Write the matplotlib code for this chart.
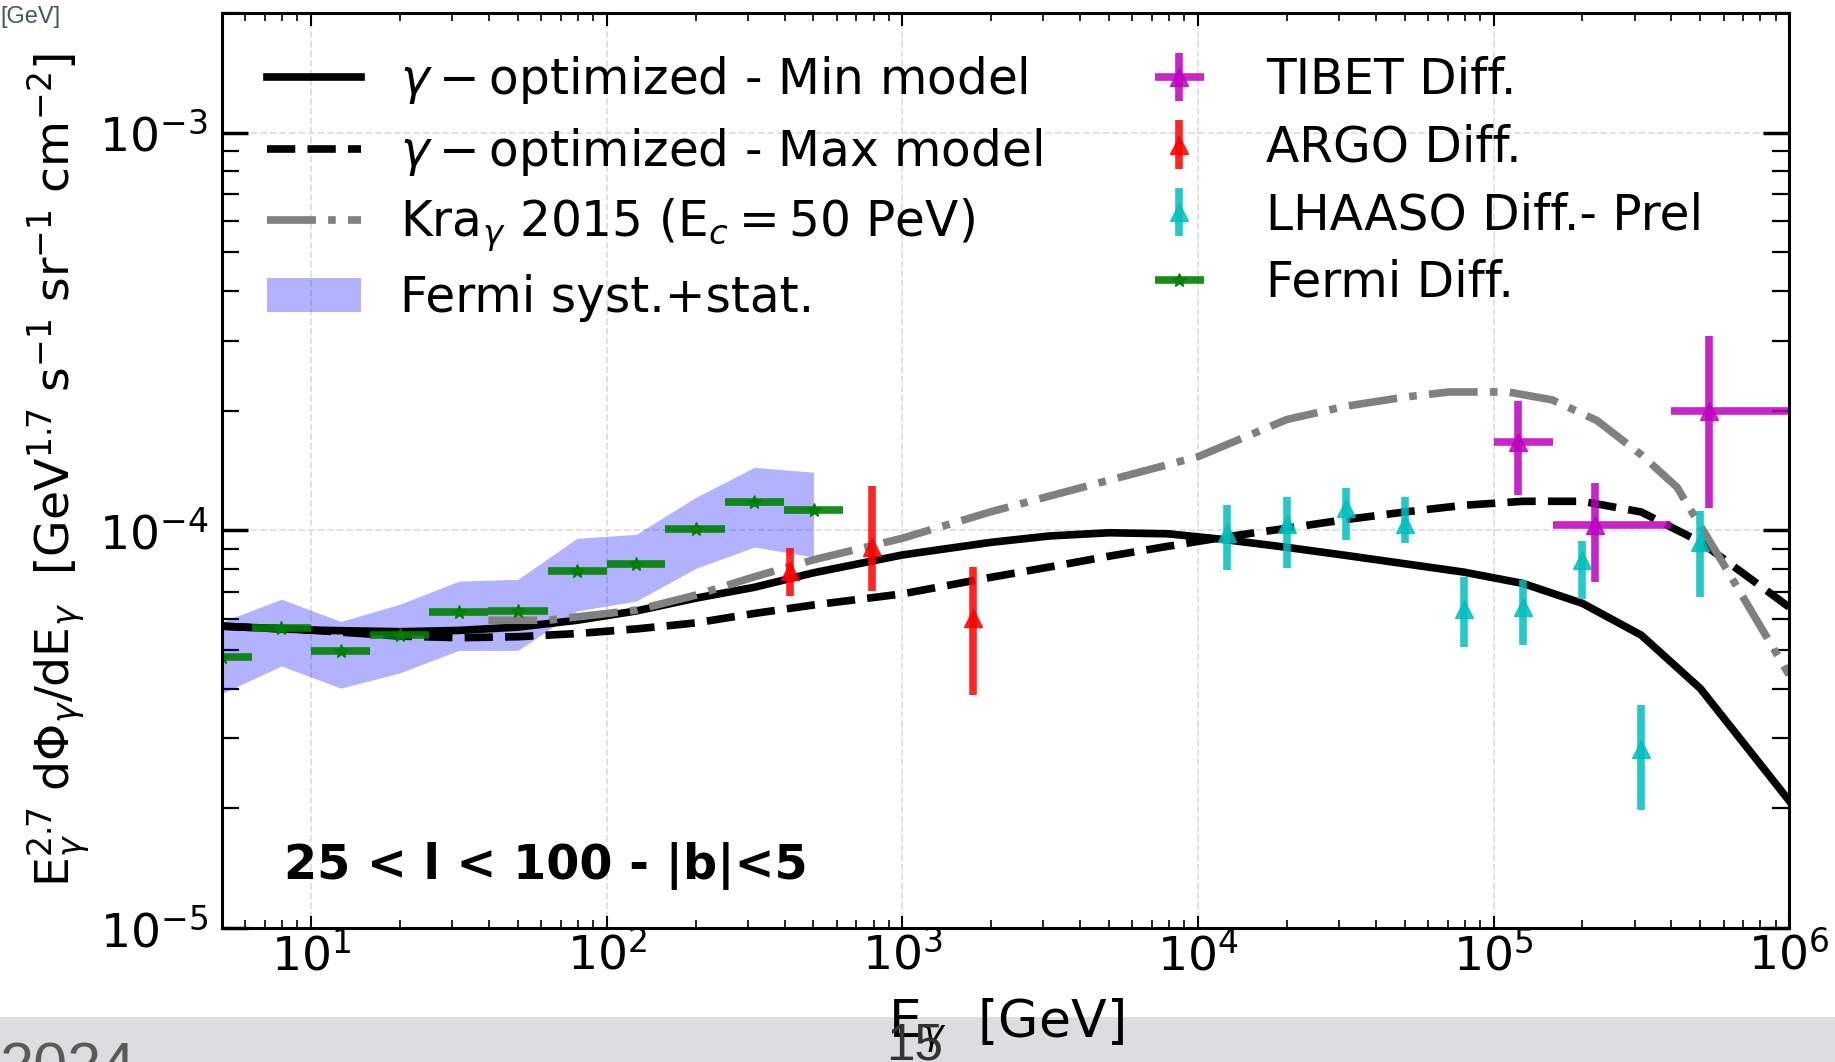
import matplotlib as mpl
mpl.use('Agg')
import matplotlib.pyplot as plt
from matplotlib.patches import Rectangle
import numpy as np

# ---- data ----
# models
min_E = [5.0, 10.0, 20.0, 31.6, 50.1, 79.4, 126, 200, 316, 501, 1000, 2000, 3160, 5010, 7940,
         12600, 20000, 31600, 50100, 79400, 126000, 200000, 316000, 501000, 1000000]
min_flux = [5.74e-5, 5.61e-5, 5.56e-5, 5.60e-5, 5.71e-5, 5.94e-5, 6.27e-5, 6.75e-5, 7.19e-5, 7.82e-5,
            8.67e-5, 9.33e-5, 9.68e-5, 9.86e-5, 9.80e-5, 9.46e-5, 9.06e-5, 8.65e-5, 8.24e-5, 7.85e-5,
            7.35e-5, 6.55e-5, 5.45e-5, 4.00e-5, 2.09e-5]

max_E = min_E
max_flux = [5.74e-5, 5.61e-5, 5.42e-5, 5.37e-5, 5.40e-5, 5.50e-5, 5.65e-5, 5.85e-5, 6.18e-5, 6.49e-5,
            6.92e-5, 7.62e-5, 8.09e-5, 8.61e-5, 9.12e-5, 9.64e-5, 1.012e-4, 1.064e-4, 1.112e-4, 1.156e-4,
            1.183e-4, 1.183e-4, 1.112e-4, 9.35e-5, 6.41e-5]

kra_E = [39.8, 63.1, 126, 200, 316, 501, 1000, 2000, 5010, 10000, 20000, 31600, 50100, 70800,
         112000, 158000, 224000, 316000, 417000, 589000, 1000000]
kra_flux = [5.94e-5, 5.94e-5, 6.30e-5, 6.87e-5, 7.64e-5, 8.43e-5, 9.55e-5, 1.114e-4, 1.337e-4, 1.531e-4,
            1.90e-4, 2.051e-4, 2.163e-4, 2.228e-4, 2.228e-4, 2.128e-4, 1.888e-4, 1.549e-4, 1.285e-4,
            8.41e-5, 4.33e-5]

# Fermi diffuse
fermi_E = [5.01, 7.94, 12.6, 20.0, 31.6, 50.1, 79.4, 126, 200, 316, 501]
fermi_Elo = [3.98, 6.31, 10.0, 15.8, 25.1, 39.8, 63.1, 100, 158, 251, 398]
fermi_Ehi = [6.31, 10.0, 15.8, 25.1, 39.8, 63.1, 100, 158, 251, 398, 631]
fermi_flux = [4.80e-5, 5.67e-5, 4.96e-5, 5.46e-5, 6.24e-5, 6.28e-5, 7.90e-5, 8.23e-5, 1.005e-4,
              1.175e-4, 1.125e-4]
band_lo = [3.89e-5, 4.56e-5, 4.01e-5, 4.38e-5, 4.99e-5, 4.99e-5, 6.27e-5, 6.64e-5, 8.02e-5,
           9.08e-5, 8.57e-5]
band_hi = [5.89e-5, 6.71e-5, 5.90e-5, 6.52e-5, 7.45e-5, 7.53e-5, 9.55e-5, 9.77e-5, 1.21e-4,
           1.44e-4, 1.40e-4]

# ARGO
argo_E = [416, 789, 1730]
argo_flux = [7.88e-5, 9.10e-5, 6.01e-5]
argo_lo = [6.84e-5, 7.03e-5, 3.85e-5]
argo_hi = [9.03e-5, 1.29e-4, 8.09e-5]

# LHAASO
lhaaso_E = [12590, 19950, 31620, 50120, 79430, 125900, 199500, 316200, 501200]
lhaaso_flux = [9.82e-5, 1.040e-4, 1.135e-4, 1.040e-4, 6.35e-5, 6.41e-5, 8.41e-5, 2.82e-5, 9.35e-5]
lhaaso_lo = [7.93e-5, 8.02e-5, 9.44e-5, 9.29e-5, 5.09e-5, 5.14e-5, 6.73e-5, 1.98e-5, 6.79e-5]
lhaaso_hi = [1.156e-4, 1.216e-4, 1.276e-4, 1.216e-4, 7.64e-5, 7.52e-5, 9.40e-5, 3.63e-5, 1.119e-4]

# TIBET
tibet_E = [1.21e5, 2.20e5, 5.35e5]
tibet_Elo = [1.0e5, 1.585e5, 3.98e5]
tibet_Ehi = [1.585e5, 3.98e5, 1.0e6]
tibet_flux = [1.667e-4, 1.03e-4, 1.995e-4]
tibet_lo = [1.225e-4, 7.40e-5, 1.135e-4]
tibet_hi = [2.11e-4, 1.318e-4, 3.08e-4]


def asym(c, lo, hi):
    c = np.array(c)
    return [c - np.array(lo), np.array(hi) - c]


mpl.rcParams['axes.linewidth'] = 2.2

fig = plt.figure(figsize=(18.35, 10.62), dpi=100)
fig.patch.set_facecolor('white')

# slide footer strip
fig.add_artist(Rectangle((0, 0), 1, 45 / 1062., transform=fig.transFigure,
                         facecolor='#dcdddf', edgecolor='none', zorder=-5))

ax = fig.add_axes([0.121, 0.1262, 0.8540, 0.8616])

l_min, = ax.plot(min_E, min_flux, color='k', lw=5.5, ls='-')
l_max, = ax.plot(max_E, max_flux, color='k', lw=5.5, ls='--')
l_kra, = ax.plot(kra_E, kra_flux, color='gray', lw=5.5, ls='-.')

band = ax.fill_between(fermi_E, band_lo, band_hi, color='blue', alpha=0.3, lw=0)

e_tibet = ax.errorbar(tibet_E, tibet_flux, xerr=asym(tibet_E, tibet_Elo, tibet_Ehi),
                      yerr=asym(tibet_flux, tibet_lo, tibet_hi), fmt='^', color='m',
                      ms=13, elinewidth=5.5, alpha=0.85)
e_argo = ax.errorbar(argo_E, argo_flux, yerr=asym(argo_flux, argo_lo, argo_hi), fmt='^',
                     color='r', ms=13, elinewidth=5.5, alpha=0.85)
e_lhaaso = ax.errorbar(lhaaso_E, lhaaso_flux, yerr=asym(lhaaso_flux, lhaaso_lo, lhaaso_hi),
                       fmt='^', color='c', ms=13, elinewidth=5.5, alpha=0.85)
e_fermi = ax.errorbar(fermi_E, fermi_flux, xerr=asym(fermi_E, fermi_Elo, fermi_Ehi), fmt='*',
                      color='g', ms=10, elinewidth=5.5, alpha=0.9)

ax.set_xscale('log')
ax.set_yscale('log')
ax.set_xlim(5, 1e6)
ax.set_ylim(1e-5, 2e-3)

ax.grid(True, which='major', ls='--', color='0.87', lw=1.3)
ax.set_axisbelow(True)

ax.tick_params(axis='y', which='major', direction='in', length=19, width=2.5, right=True,
               labelsize=34, pad=10)
ax.tick_params(axis='y', which='minor', direction='in', length=12, width=1.6, right=True)
ax.tick_params(axis='x', which='major', direction='in', length=9, width=1.5, top=True,
               labelsize=34, pad=3)
ax.tick_params(axis='x', which='minor', direction='in', length=5.5, width=1.2, top=True)

ax.set_xlabel(r'E$_{\gamma}$  [GeV]', fontsize=37.5, labelpad=12)
ax.set_ylabel(r'E$_{\gamma}^{2.7}$ d$\Phi_{\gamma}$/dE$_{\gamma}$  '
              r'[GeV$^{1.7}$ s$^{-1}$ sr$^{-1}$ cm$^{-2}$]', fontsize=34)
ax.yaxis.set_label_coords(-0.083, 0.5)

handles = [l_min, l_max, l_kra, band, e_tibet, e_argo, e_lhaaso, e_fermi]
labels = [r'$\gamma-$optimized - Min model', r'$\gamma-$optimized - Max model',
          r'Kra$_{\gamma}$ 2015 (E$_c=$50 PeV)', 'Fermi syst.+stat.',
          'TIBET Diff.', 'ARGO Diff.', 'LHAASO Diff.- Prel', 'Fermi Diff.']
ax.legend(handles, labels, ncol=2, loc='upper left', bbox_to_anchor=(0.013, 0.9815),
          frameon=False, fontsize=35, borderpad=0, handlelength=1.93, handletextpad=0.82,
          columnspacing=1.85, labelspacing=0.4)

ax.text(0.0396, 0.0678, '25 < l < 100 - |b|<5', transform=ax.transAxes, fontsize=34.4,
        fontweight='bold', ha='left', va='center')

# slide decorations
fig.text(0.0, 1 - 6 / 1062., '[GeV]', fontsize=17, color='#44546a', ha='left', va='top',
         family=['Liberation Sans Narrow', 'Liberation Sans'])
fig.text(0.0, 1 - 1042 / 1062., '2024', fontsize=44, color='#595959', ha='left', va='top',
         family='Liberation Sans')
fig.text(886 / 1835., 1 - 1022 / 1062., '15', fontsize=37, color='#333333', ha='left', va='top',
         family='Liberation Sans')

plt.savefig('out.png', dpi=100)
plt.close(fig)
